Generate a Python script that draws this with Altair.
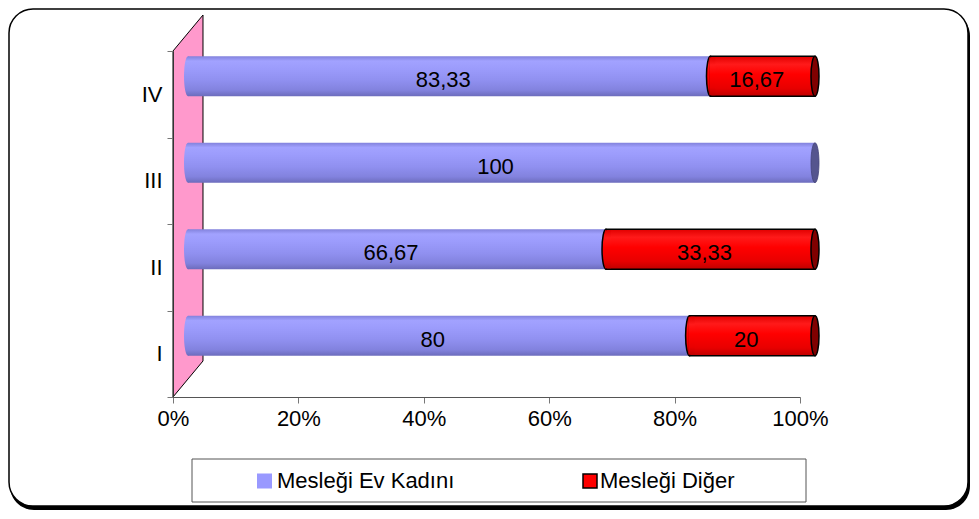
import altair as alt
import pandas as pd

# ---- data ----
categories = ["I", "II", "III", "IV"]
ev_kadini = [80, 66.67, 100, 83.33]
diger = [20, 33.33, 0, 16.67]
series_names = ["Mesleği Ev Kadını", "Mesleği Diğer"]
x_ticks = [0, 20, 40, 60, 80, 100]

df = pd.DataFrame({"cat": categories, "ev": ev_kadini, "diger": diger})

# ---- style constants ----
FONT = "Liberation Sans"
W, H = 627, 346            # plot area
DX, DY = 15, -18           # 3D offset of the cylinders (half the wall depth)
BAR_H = 40
cat_order = categories[::-1]

blue_grad = alt.Gradient(
    gradient="linear", x1=0, x2=0, y1=0, y2=1,
    stops=[alt.GradientStop(color="#8282dc", offset=0),
           alt.GradientStop(color="#a2a2ff", offset=0.12),
           alt.GradientStop(color="#9c9cfc", offset=0.3),
           alt.GradientStop(color="#9090f0", offset=0.6),
           alt.GradientStop(color="#8282de", offset=0.85),
           alt.GradientStop(color="#6c6cbc", offset=1)])
red_grad = alt.Gradient(
    gradient="linear", x1=0, x2=0, y1=0, y2=1,
    stops=[alt.GradientStop(color="#e00000", offset=0),
           alt.GradientStop(color="#ff1a1a", offset=0.2),
           alt.GradientStop(color="#ff0000", offset=0.45),
           alt.GradientStop(color="#e80000", offset=0.8),
           alt.GradientStop(color="#c00000", offset=1)])

# ellipse symbol (unit box), width 0.2 of height
a, k = 0.2, 0.5523
ELLIPSE = (f"M0,-1 C{a*k:.4f},-1 {a},-{k} {a},0 C{a},{k} {a*k:.4f},1 0,1 "
           f"C-{a*k:.4f},1 -{a},{k} -{a},0 C-{a},-{k} -{a*k:.4f},-1 0,-1 Z")

# wall parallelogram: full depth is 2*DX right, 2*|DY| up
depth_x, depth_y = 2 * DX, -2 * DY
wall_top, wall_bot = -depth_y, H
wall_cy = (wall_top + wall_bot) / 2
u = (wall_bot - wall_top) / 2
wx = depth_x / 2 / u
WALL = (f"M{-wx:.4f},{(0 - wall_cy) / u:.4f} "
        f"L{wx:.4f},{(wall_top - wall_cy) / u:.4f} "
        f"L{wx:.4f},{(H - depth_y - wall_cy) / u:.4f} "
        f"L{-wx:.4f},{(H - wall_cy) / u:.4f} Z")

x_axis = alt.Axis(values=x_ticks, labelExpr="datum.value + '%'", title=None,
                  grid=False, labelFontSize=22, labelFont=FONT, labelColor="black",
                  tickSize=6, labelPadding=5, domainColor="#555555", labelFlush=False,
                  tickColor="#777777", zindex=1)
y_axis = alt.Axis(title=None, labelFontSize=22, labelFont=FONT, labelColor="black",
                  tickBand="extent", tickSize=6, labelPadding=5,
                  domainColor="#333333", tickColor="#777777", zindex=1)
x_scale = alt.Scale(domain=[0, 100], nice=False)
y_enc = alt.Y("cat:N", sort=cat_order, axis=y_axis,
              scale=alt.Scale(paddingInner=0, paddingOuter=0))


def X(field):
    return alt.X(field, scale=x_scale, axis=x_axis, title=None)


base = alt.Chart(df).transform_calculate(
    zero="0",
    end="datum.ev + datum.diger",
    ev_mid="datum.ev / 2",
    dg_mid="datum.ev + datum.diger / 2",
    ev_lbl="replace(format(datum.ev, '.4~'), '.', ',')",
    dg_lbl="replace(format(datum.diger, '.4~'), '.', ',')",
)
one = alt.Data(values=[{}])

# frame (page coords converted to plot coords: origin at page 173,51)
shadow = alt.Chart(one).mark_rect(fill="black", cornerRadius=24).encode(
    x=alt.value(10 - 173), x2=alt.value(970 - 173),
    y=alt.value(12 - 51), y2=alt.value(510 - 51))
frame = alt.Chart(one).mark_rect(fill="white", stroke="black", strokeWidth=1.5,
                                 cornerRadius=24).encode(
    x=alt.value(9 - 173), x2=alt.value(968 - 173),
    y=alt.value(9 - 51), y2=alt.value(506 - 51))

# legend
leg_box = alt.Chart(one).mark_rect(fill="white", stroke="#555555", strokeWidth=1).encode(
    x=alt.value(192 - 173), x2=alt.value(806 - 173),
    y=alt.value(459 - 51), y2=alt.value(502 - 51))
leg_y = 481 - 51
leg_sw1 = alt.Chart(one).mark_square(size=225, fill="#9999ff", opacity=1).encode(
    x=alt.value(264.5 - 173), y=alt.value(leg_y))
leg_sw2 = alt.Chart(one).mark_square(size=196, fill="#ff0000", stroke="black",
                                     strokeWidth=1.5, opacity=1).encode(
    x=alt.value(590 - 173), y=alt.value(leg_y))
leg_t1 = alt.Chart(one).mark_text(text=series_names[0], align="left", baseline="middle",
                                  font=FONT, fontSize=22, color="black").encode(
    x=alt.value(277 - 173), y=alt.value(leg_y))
leg_t2 = alt.Chart(one).mark_text(text=series_names[1], align="left", baseline="middle",
                                  font=FONT, fontSize=22, color="black").encode(
    x=alt.value(600 - 173), y=alt.value(leg_y))

# wall
wall = alt.Chart(one).mark_point(shape=WALL, size=(2 * u) ** 2, fill="#ff99cc",
                                 stroke="black", strokeWidth=1, opacity=1,
                                 filled=True).encode(
    x=alt.value(depth_x / 2), y=alt.value(wall_cy))

off = dict(xOffset=DX, x2Offset=DX, yOffset=DY, y2Offset=DY)

blue_start = base.mark_point(shape=ELLIPSE, size=BAR_H ** 2, fill=blue_grad,
                             opacity=1, strokeWidth=0, filled=True,
                             xOffset=DX, yOffset=DY).encode(x=X("zero:Q"), y=y_enc)
blue_bar = base.mark_bar(fill=blue_grad, size=BAR_H, **off).encode(
    x=X("zero:Q"), x2="ev:Q", y=y_enc)
blue_cap = base.transform_filter("datum.diger == 0").mark_point(
    shape=ELLIPSE, size=BAR_H ** 2, fill="#55558e", stroke="#44447a", strokeWidth=0.8,
    opacity=1, filled=True, xOffset=DX, yOffset=DY).encode(x=X("end:Q"), y=y_enc)

red_start = base.transform_filter("datum.diger > 0").mark_point(
    shape=ELLIPSE, size=BAR_H ** 2, fill=red_grad, stroke="black", strokeWidth=1.5,
    opacity=1, filled=True, xOffset=DX, yOffset=DY).encode(x=X("ev:Q"), y=y_enc)
red_bar = base.transform_filter("datum.diger > 0").mark_bar(
    fill=red_grad, stroke="black", strokeWidth=1.5, size=BAR_H, **off).encode(
    x=X("ev:Q"), x2="end:Q", y=y_enc)
red_patch = base.transform_filter("datum.diger > 0").mark_bar(
    fill=red_grad, size=BAR_H - 2, xOffset=DX - 1, x2Offset=DX + 5,
    yOffset=DY, y2Offset=DY).encode(x=X("ev:Q"), x2="ev:Q", y=y_enc)
red_cap = base.transform_filter("datum.diger > 0").mark_point(
    shape=ELLIPSE, size=BAR_H ** 2, fill="#800000", stroke="black", strokeWidth=1.5,
    opacity=1, filled=True, xOffset=DX, yOffset=DY).encode(x=X("end:Q"), y=y_enc)

txt_kw = dict(font=FONT, fontSize=22, color="black", align="center",
              baseline="middle", xOffset=DX - 6, yOffset=DY + 4)
blue_txt = base.mark_text(**txt_kw).encode(x=X("ev_mid:Q"), y=y_enc, text="ev_lbl:N")
red_txt = base.transform_filter("datum.diger > 0").mark_text(**txt_kw).encode(
    x=X("dg_mid:Q"), y=y_enc, text="dg_lbl:N")

chart = alt.layer(
    shadow, frame, leg_box, leg_sw1, leg_sw2, leg_t1, leg_t2, wall,
    blue_start, blue_bar, blue_cap, red_start, red_bar, red_patch, red_cap,
    blue_txt, red_txt,
).properties(
    width=W, height=H,
    padding={"left": 165, "top": 43, "right": 171, "bottom": 114},
    autosize=alt.AutoSizeParams(type="none"),
    background="white",
).configure_view(stroke=None)

chart.save("out.html", embed_options={"renderer": "svg", "actions": False})
